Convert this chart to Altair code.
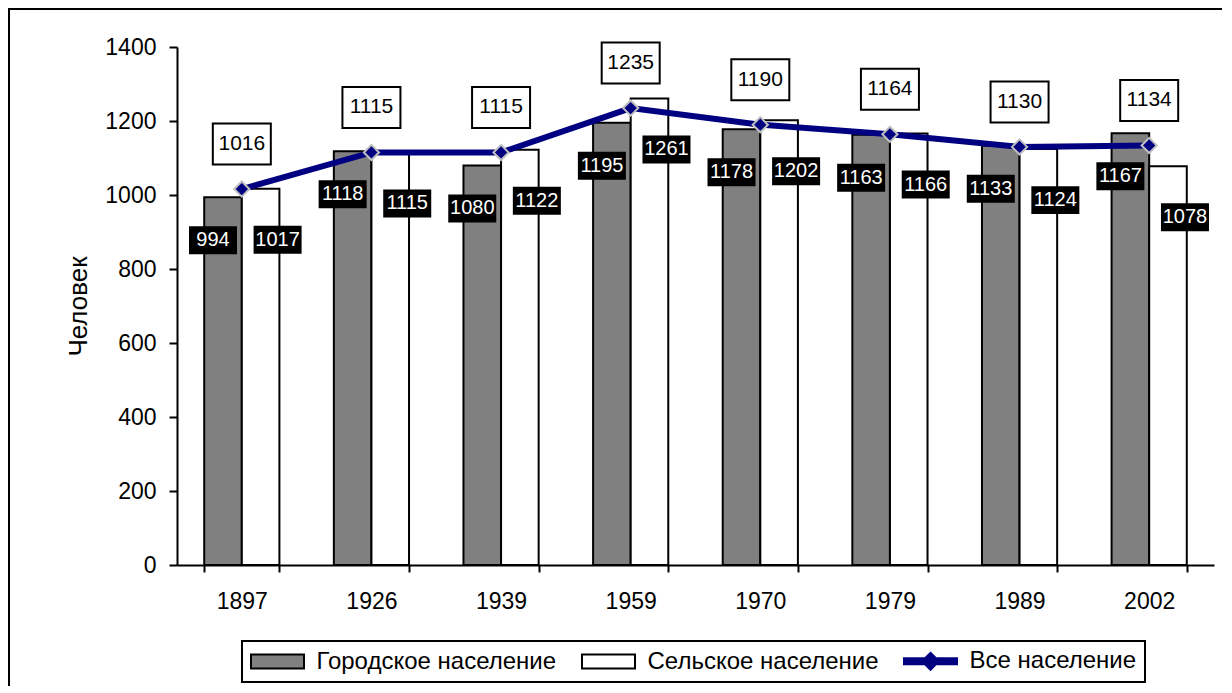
import altair as alt
import pandas as pd

years = ['1897', '1926', '1939', '1959', '1970', '1979', '1989', '2002']
urban = [994, 1118, 1080, 1195, 1178, 1163, 1133, 1167]
rural = [1017, 1115, 1122, 1261, 1202, 1166, 1124, 1078]
total = [1016, 1115, 1115, 1235, 1190, 1164, 1130, 1134]
series_names = ['Городское население', 'Сельское население', 'Все население']
series_fill = ['#808080', '#ffffff', '#000080']
series_stroke = ['#000000', '#000000', '#000080']
y_ticks = [0, 200, 400, 600, 800, 1000, 1200, 1400]
y_title = 'Человек'

urban_df = pd.DataFrame({'year': years, 'series': series_names[0], 'value': urban})
rural_df = pd.DataFrame({'year': years, 'series': series_names[1], 'value': rural})
bars_df = pd.concat([urban_df, rural_df], ignore_index=True)
line_df = pd.DataFrame({'year': years, 'series': series_names[2], 'value': total})

W, H = 1037, 518
FONT = 'Liberation Sans, Arial, sans-serif'
NAVY = '#000080'

# legend symbols (unit = 11 px, symbol drawn wider than its nominal size)
RECT_LEG = 'M-2.41,-0.636L2.41,-0.636L2.41,0.636L-2.41,0.636Z'
LINE_LEG = 'M-2.41,-0.27L2.41,-0.27L2.41,0.27L-2.41,0.27Z M0,-0.77L0.77,0L0,0.77L-0.77,0Z'
BOX_W = 'M-1,-0.707L1,-0.707L1,0.707L-1,0.707Z'
BOX_B_URB = 'M-1.417,-0.583L0.583,-0.583L0.583,0.583L-1.417,0.583Z'
BOX_B_RUR = 'M-0.292,-0.583L1.708,-0.583L1.708,0.583L-0.292,0.583Z'

x_enc = alt.X('year:N', sort=years,
              scale=alt.Scale(paddingInner=0.42, paddingOuter=0.21),
              axis=alt.Axis(title=None, tickBand='extent', grid=False, labelAngle=0,
                            domainColor='black', domainWidth=2, tickColor='black', tickWidth=2,
                            tickSize=7, labelFont=FONT, labelFontSize=23, labelColor='black',
                            labelPadding=18))
y_enc = alt.Y('value:Q', scale=alt.Scale(domain=[0, 1400]),
              axis=alt.Axis(values=y_ticks, format='d', grid=False, title=y_title,
                            domainColor='black', domainWidth=2, tickColor='black', tickWidth=2,
                            tickSize=8, labelFont=FONT, labelFontSize=23, labelColor='black',
                            labelPadding=13, titleFont=FONT, titleFontSize=26,
                            titleFontWeight='normal', titleColor='black', titlePadding=13))
xoff_enc = alt.XOffset('series:N', scale=alt.Scale(domain=series_names[:2]))

leg = alt.Legend(title=None, orient='none', legendX=65, legendY=594, direction='horizontal',
                 symbolSize=484, symbolStrokeWidth=2, symbolOpacity=1, symbolOffset=15.5,
                 labelFont=FONT, labelFontSize=24, labelColor='black', labelOffset=27,
                 labelLimit=0, columnPadding=20, padding=8, strokeColor='black')
fill_scale = alt.Scale(domain=series_names, range=series_fill)
stroke_scale = alt.Scale(domain=series_names, range=series_stroke)
shape_scale = alt.Scale(domain=series_names, range=[RECT_LEG, RECT_LEG, LINE_LEG])

frame = alt.Chart(pd.DataFrame({'f': [0]})).mark_rect(
    fill='white', fillOpacity=0, stroke='black', strokeWidth=2
).encode(x=alt.value(-168), x2=alt.value(W + 40), y=alt.value(-38), y2=alt.value(H + 200))

bars = alt.Chart(bars_df).mark_bar(strokeWidth=2).encode(
    x=x_enc, xOffset=xoff_enc, y=y_enc,
    fill=alt.Fill('series:N', scale=fill_scale, legend=leg),
    stroke=alt.Stroke('series:N', scale=stroke_scale, legend=leg),
)

line = alt.Chart(line_df).mark_line(color=NAVY, strokeWidth=6).encode(x=x_enc, y=y_enc)

diamonds = alt.Chart(line_df).mark_point(
    shape='diamond', filled=True, fill=NAVY, stroke='#c0c0c0', strokeWidth=2, size=230, opacity=1
).encode(x=x_enc, y=y_enc)

white_boxes = alt.Chart(line_df).mark_point(
    shape=BOX_W, filled=True, fill='white', stroke='black', strokeWidth=2,
    size=58 * 58, opacity=1, yOffset=-45
).encode(x=x_enc, y=y_enc)

white_text = alt.Chart(line_df).mark_text(
    font=FONT, fontSize=21, color='black', baseline='middle', align='center', dy=-45
).encode(x=x_enc, y=y_enc, text='value:Q')


def black_labels(df, path, dx, dy):
    boxes = alt.Chart(df).mark_point(
        shape=path, filled=True, fill='black', strokeWidth=0, size=48 * 48, opacity=1, yOffset=dy
    ).encode(x=x_enc, xOffset=xoff_enc, y=y_enc)
    texts = alt.Chart(df).mark_text(
        font=FONT, fontSize=20, color='white', baseline='middle', align='center', dx=dx, dy=dy
    ).encode(x=x_enc, xOffset=xoff_enc, y=y_enc, text='value:Q')
    return [boxes, texts]


helper = alt.Chart(line_df).transform_filter('false').mark_point(filled=True, opacity=1).encode(
    shape=alt.Shape('series:N', scale=shape_scale, legend=leg),
    fill=alt.Fill('series:N', scale=fill_scale, legend=leg),
    stroke=alt.Stroke('series:N', scale=stroke_scale, legend=leg),
)

chart = alt.layer(
    frame, bars, line, diamonds, white_boxes, white_text,
    *black_labels(urban_df, BOX_B_URB, -10, 43),
    *black_labels(rural_df, BOX_B_RUR, 17, 51),
    helper
).properties(
    width=W, height=H,
    autosize=alt.AutoSizeParams(type='none'),
    padding={'left': 169, 'top': 39, 'right': 8, 'bottom': 121},
    background='white',
).configure_view(stroke=None).configure_legend(strokeWidth=2)

chart.save('out.html', embed_options={'renderer': 'svg', 'actions': False})
